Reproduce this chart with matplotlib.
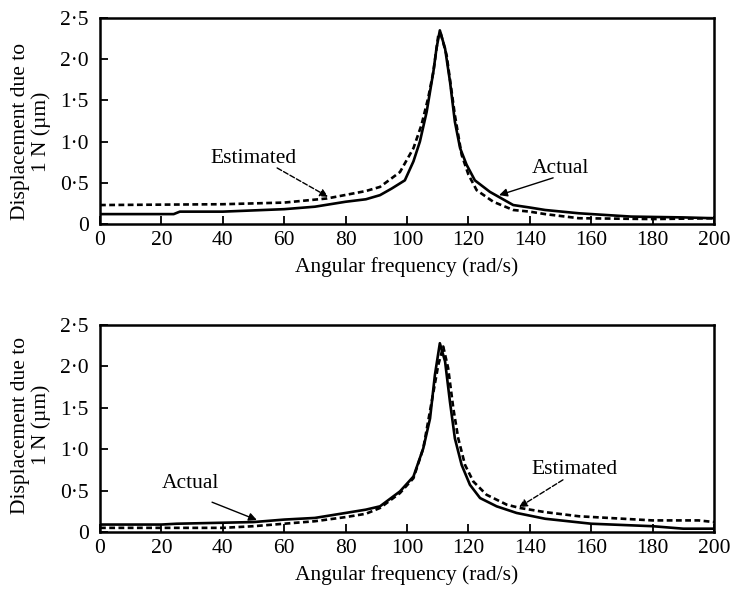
import matplotlib.pyplot as plt

plt.rcParams['font.family'] = ['Liberation Serif', 'DejaVu Serif']

# top panel
w_act1 = [0, 24, 26, 40, 60, 70, 80, 86.6, 91.2, 95, 99.3, 102.1, 104.2, 106.4, 108.6, 109.6, 110.7, 112.4, 114, 115.6, 117.3, 119.4, 122.1, 127, 134.6, 140, 145, 156, 173, 190, 200]
d_act1 = [0.12, 0.12, 0.15, 0.15, 0.18, 0.21, 0.27, 0.30, 0.35, 0.43, 0.53, 0.76, 1.00, 1.36, 1.85, 2.13, 2.35, 2.13, 1.73, 1.24, 0.92, 0.72, 0.53, 0.39, 0.23, 0.20, 0.17, 0.13, 0.09, 0.08, 0.07]
w_est1 = [0, 40, 60, 74, 86.6, 91.2, 97.7, 102.1, 104.7, 106.9, 108.6, 110.2, 111, 112.9, 115.6, 117.8, 120, 122.7, 128.1, 134.6, 140, 145, 156, 180, 200]
d_est1 = [0.23, 0.24, 0.26, 0.31, 0.40, 0.45, 0.63, 0.92, 1.20, 1.53, 1.85, 2.29, 2.31, 2.05, 1.32, 0.84, 0.60, 0.41, 0.27, 0.17, 0.15, 0.12, 0.07, 0.06, 0.07]

# bottom panel
w_act2 = [0, 20, 25, 50, 60, 70, 80, 86.6, 91.2, 97.7, 102.1, 105.3, 107.5, 109.1, 110.7, 112.4, 114, 115.6, 117.8, 120.5, 123.8, 129.2, 135.7, 145, 160, 180, 190, 200]
d_act2 = [0.09, 0.09, 0.10, 0.12, 0.15, 0.17, 0.23, 0.27, 0.31, 0.49, 0.67, 1.01, 1.37, 1.90, 2.28, 2.06, 1.57, 1.13, 0.81, 0.57, 0.41, 0.31, 0.23, 0.16, 0.10, 0.07, 0.04, 0.04]
w_est2 = [0, 40, 50, 60, 70, 80, 86.6, 91.2, 97.7, 102.1, 105.3, 108.6, 110.2, 111.8, 113.4, 115.1, 116.7, 118.9, 121.6, 125.9, 132.5, 136.8, 145, 156, 180, 195, 200]
d_est2 = [0.05, 0.05, 0.07, 0.10, 0.13, 0.18, 0.22, 0.29, 0.47, 0.65, 1.01, 1.69, 2.02, 2.24, 1.98, 1.49, 1.13, 0.81, 0.61, 0.45, 0.33, 0.29, 0.24, 0.19, 0.14, 0.14, 0.12]

ytick_vals = [0, 0.5, 1.0, 1.5, 2.0, 2.5]
ytick_text = ['0', '0·5', '1·0', '1·5', '2·0', '2·5']
xtick_vals = list(range(0, 201, 20))

fig = plt.figure(figsize=(7.32, 6.06), dpi=100)
ax1 = fig.add_axes([100/732, 1-224/606, 614/732, 206/606])
ax2 = fig.add_axes([100/732, 1-532/606, 614/732, 207/606])

dash = (0, (2.2, 1.3))

for ax, wa, da, we, de in [(ax1, w_act1, d_act1, w_est1, d_est1), (ax2, w_act2, d_act2, w_est2, d_est2)]:
    ax.plot(wa, da, color='black', lw=1.9)
    ax.plot(we, de, color='black', lw=1.9, linestyle=dash)
    ax.set_xlim(0, 200)
    ax.set_ylim(0, 2.5)
    ax.set_xticks(xtick_vals)
    ax.set_yticks(ytick_vals)
    ax.set_yticklabels(ytick_text)
    ax.tick_params(direction='in', length=6, width=1.3, labelsize=15.5)
    ax.tick_params(axis='x', pad=5)
    ax.tick_params(axis='y', pad=8)
    for s in ax.spines.values():
        s.set_linewidth(1.8)
    ax.set_xlabel('Angular frequency (rad/s)', fontsize=15.5, labelpad=5)
    ax.set_ylabel('Displacement due to\n1 N (µm)', fontsize=15.5, linespacing=1.1)

ax1.yaxis.set_label_coords(-0.0795, 0.449)
ax2.yaxis.set_label_coords(-0.0795, 0.517)

# labels with arrows
solid_arrow = dict(arrowstyle='-|>', color='black', lw=1, shrinkA=0, shrinkB=0, mutation_scale=12)
dash_arrow = dict(arrowstyle='-|>', color='black', lw=1, linestyle='--', shrinkA=0, shrinkB=0, mutation_scale=12)

ax1.text(50, 0.80, 'Estimated', ha='center', va='center', fontsize=15.5)
ax1.annotate('', xy=(74.3, 0.33), xytext=(57.7, 0.68), arrowprops=dash_arrow)
ax1.text(150, 0.67, 'Actual', ha='center', va='center', fontsize=15.5)
ax1.annotate('', xy=(130, 0.35), xytext=(147.6, 0.56), arrowprops=solid_arrow)

ax2.text(29.6, 0.58, 'Actual', ha='center', va='center', fontsize=15.5)
ax2.annotate('', xy=(51.1, 0.145), xytext=(36.5, 0.36), arrowprops=solid_arrow)
ax2.text(154.7, 0.75, 'Estimated', ha='center', va='center', fontsize=15.5)
ax2.annotate('', xy=(136.5, 0.30), xytext=(150.8, 0.63), arrowprops=dash_arrow)

fig.savefig('out.png', dpi=100)
